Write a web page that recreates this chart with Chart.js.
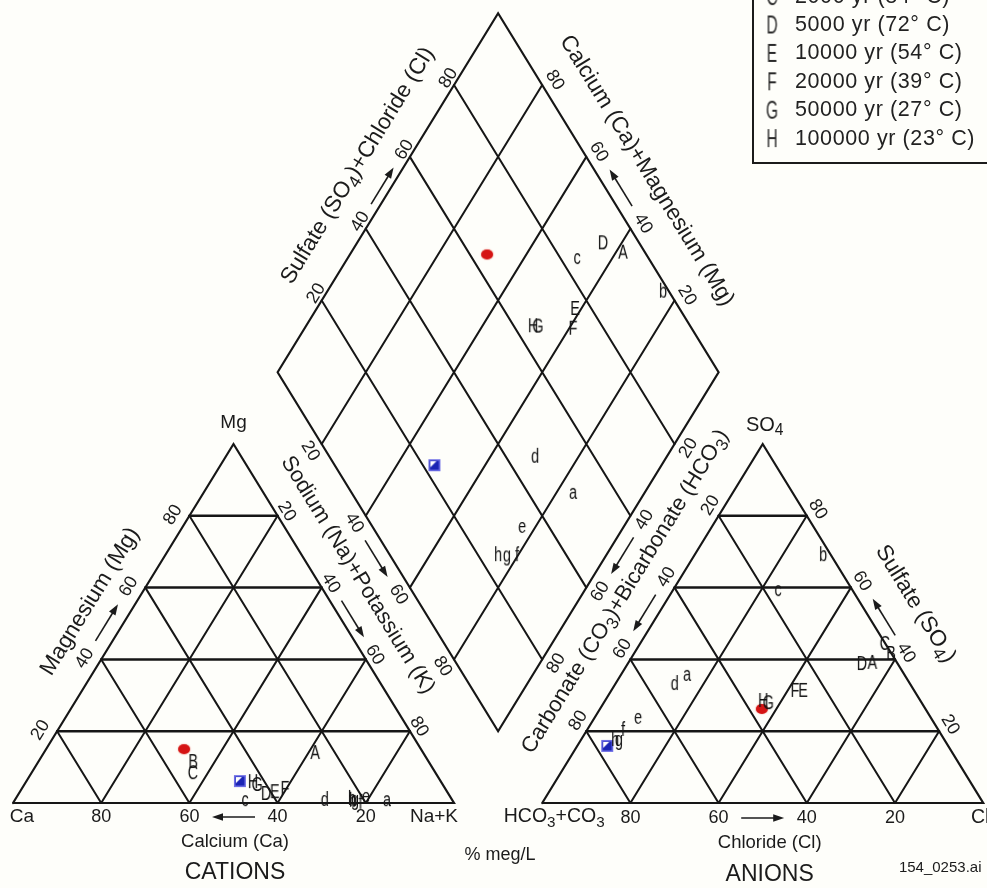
<!DOCTYPE html>
<html>
<head>
<meta charset="utf-8">
<script src="https://cdn.jsdelivr.net/npm/chart.js@4.4.1/dist/chart.umd.min.js"></script>
<style>
  html, body { margin: 0; padding: 0; background: #fefefa; }
  #wrap { width: 987px; height: 888px; }
</style>
</head>
<body>
<div id="wrap"><canvas id="piper" width="987" height="888"></canvas></div>
<script>
// ---------------- data (% meq/L) ----------------
// marker ids: two measured waters (red dot, blue square), model results A-H and a-h
const pointIds = ['red', 'blue', 'A', 'B', 'C', 'D', 'E', 'F', 'G', 'H',
                  'a', 'b', 'c', 'd', 'e', 'f', 'g', 'h'];

// cation triangle: magnesium and sodium+potassium (calcium is the rest)
const cationMg  = [15.0, 6.1, 14.2, 11.7, 8.6, 2.8, 3.3, 4.2, 5.3, 6.1,
                   0.8, 1.2, 0.8, 1.4, 1.7, 0.6, 0.3, 1.7];
const cationNaK = [31.3, 48.4, 61.4, 35.0, 36.5, 56.0, 57.7, 59.6, 52.7, 51.4,
                   84.4, 76.5, 52.2, 70.0, 79.2, 78.5, 77.4, 76.0];

// anion triangle: sulfate and chloride (carbonate+bicarbonate is the rest)
const anionSO4 = [26.2, 15.9, 39.3, 41.8, 44.6, 39.0, 31.5, 31.5, 28.1, 28.7,
                  35.7, 69.6, 59.3, 33.7, 23.7, 20.9, 17.0, 18.1];
const anionCl  = [36.7, 6.8, 55.2, 58.2, 55.4, 53.0, 43.4, 41.6, 37.2, 35.8,
                  15.0, 28.9, 23.8, 13.2, 9.9, 7.9, 8.9, 7.5];

// central diamond: sodium+potassium and sulfate+chloride (B and C not plotted)
const diamondNaK   = [31.1, 48.5, 61.5, null, null, 55.7, 58.5, 60.8, 52.5, 51.4,
                      83.8, 75.9, 52.0, 69.9, 77.0, 79.5, 77.8, 75.2];
const diamondSO4Cl = [63.9, 22.6, 95.1, null, null, 91.9, 76.4, 73.2, 65.5, 64.5,
                      50.2, 98.9, 83.8, 46.9, 33.9, 29.1, 26.2, 24.8];

// grid levels and tick labels
const gridLevels      = [20, 40, 60, 80];
const ascendingTicks  = ['20', '40', '60', '80'];
const calciumTicks    = ['80', '60', '40', '20'];
const chlorideTicks   = ['80', '60', '40', '20'];

// legend
const legendKeys  = ['C', 'D', 'E', 'F', 'G', 'H'];
const legendAges  = ['2000 yr', '5000 yr', '10000 yr', '20000 yr', '50000 yr', '100000 yr'];
const legendTemps = ['84° C', '72° C', '54° C', '39° C', '27° C', '23° C'];

// ---------------- geometry ----------------
const H = Math.sqrt(3) / 2;
const GAP = 20; // gap between the two triangles, in triangle-side percent
const cat = (mg, nak) => ({ x: nak + mg / 2, y: mg * H });
const an  = (so4, cl) => ({ x: 100 + GAP + cl + so4 / 2, y: so4 * H });
const dia = (nak, s)  => ({ x: 100 + GAP / 2 - 0.5 * (100 - nak) + 0.5 * s,
                            y: GAP * H + H * (100 - nak + s) });

const FONT = '"Liberation Sans", Arial, Helvetica, sans-serif';
const INK = '#1b1b1b';

// line sets: segments separated by gaps
function segs(list) {
  const out = [];
  list.forEach(seg => { seg.forEach(p => out.push(p)); out.push({ x: seg[0].x, y: null }); });
  return out;
}
const outlines = segs([
  [cat(0, 0), cat(0, 100), cat(100, 0), cat(0, 0)],
  [an(0, 0), an(0, 100), an(100, 0), an(0, 0)],
  [dia(0, 0), dia(0, 100), dia(100, 100), dia(100, 0), dia(0, 0)]
]);
const horizontals = segs(gridLevels.flatMap(k => [
  [cat(k, 0), cat(k, 100 - k)],
  [an(k, 0), an(k, 100 - k)]
]));
const diagonals = segs(gridLevels.flatMap(k => [
  [cat(0, k), cat(100 - k, k)],
  [cat(0, 100 - k), cat(100 - k, 0)],
  [an(0, k), an(100 - k, k)],
  [an(0, 100 - k), an(100 - k, 0)],
  [dia(k, 0), dia(k, 100)],
  [dia(0, k), dia(100, k)]
]));

// ---------------- marker glyphs ----------------
function letterGlyph(ch, size, sx, color) {
  const c = document.createElement('canvas');
  c.width = Math.ceil(size * 0.9); c.height = Math.ceil(size * 1.3);
  const g = c.getContext('2d');
  g.font = size + 'px ' + FONT;
  const m = g.measureText(ch);
  g.fillStyle = color;
  g.textAlign = 'center';
  g.textBaseline = 'alphabetic';
  g.translate(c.width / 2, c.height / 2 + (m.actualBoundingBoxAscent - m.actualBoundingBoxDescent) / 2);
  g.scale(sx, 1);
  g.fillText(ch, 0, 0);
  return c;
}
function redDot() {
  const c = document.createElement('canvas');
  c.width = 16; c.height = 14;
  const g = c.getContext('2d');
  g.fillStyle = '#d51414';
  g.shadowColor = 'rgba(220,60,40,0.6)'; g.shadowBlur = 1.5;
  g.beginPath(); g.ellipse(8, 7, 6, 5, 0, 0, Math.PI * 2); g.fill();
  return c;
}
function blueSquare() {
  const c = document.createElement('canvas');
  c.width = 14; c.height = 14;
  const g = c.getContext('2d');
  g.fillStyle = '#6f6fe6'; g.fillRect(1, 1, 12, 12);
  g.fillStyle = '#1a24b4'; g.fillRect(2.5, 2.5, 9, 9);
  g.fillStyle = '#ffffff';
  g.beginPath(); g.moveTo(3, 3); g.lineTo(9, 3); g.lineTo(3, 9); g.closePath(); g.fill();
  return c;
}
const styleFor = id => id === 'red' ? redDot() : id === 'blue' ? blueSquare()
                     : letterGlyph(id, 20, 0.72, '#111111');

function markerSet(points) {
  const data = [], styles = [];
  points.forEach((p, i) => { if (p) { data.push(p); styles.push(styleFor(pointIds[i])); } });
  return { data, styles };
}
const cationMarks  = markerSet(pointIds.map((_, i) => cat(cationMg[i], cationNaK[i])));
const anionMarks   = markerSet(pointIds.map((_, i) => an(anionSO4[i], anionCl[i])));
const diamondMarks = markerSet(pointIds.map((_, i) =>
  diamondNaK[i] === null ? null : dia(diamondNaK[i], diamondSO4Cl[i])));

// ---------------- text helpers ----------------
// "_x" in a string marks x as a subscript
function drawRich(ctx, str, x, y, size, angle) {
  const parts = [];
  let buf = '';
  for (let i = 0; i < str.length; i++) {
    if (str[i] === '_') { if (buf) parts.push({ t: buf }); buf = ''; parts.push({ t: str[i + 1], sub: true }); i++; }
    else buf += str[i];
  }
  if (buf) parts.push({ t: buf });
  ctx.save();
  ctx.translate(x, y);
  ctx.rotate(angle || 0);
  ctx.textBaseline = 'middle';
  ctx.textAlign = 'left';
  ctx.fillStyle = INK;
  const widths = parts.map(p => { ctx.font = (p.sub ? size * 0.78 : size) + 'px ' + FONT; return ctx.measureText(p.t).width; });
  let cx = -widths.reduce((a, b) => a + b, 0) / 2;
  parts.forEach((p, i) => {
    ctx.font = (p.sub ? size * 0.78 : size) + 'px ' + FONT;
    ctx.fillText(p.t, cx, p.sub ? size * 0.3 : 0);
    cx += widths[i];
  });
  ctx.restore();
}
function drawPlain(ctx, str, x, y, size) {
  ctx.save();
  ctx.font = size + 'px ' + FONT; ctx.fillStyle = INK;
  ctx.textAlign = 'center'; ctx.textBaseline = 'middle';
  ctx.fillText(str, x, y);
  ctx.restore();
}
function drawArrow(ctx, a, b, len) {
  const dx = b.x - a.x, dy = b.y - a.y, d = Math.hypot(dx, dy);
  const ux = dx / d, uy = dy / d;
  const mx = (a.x + b.x) / 2, my = (a.y + b.y) / 2;
  const sx = mx - ux * len / 2, sy = my - uy * len / 2;
  const ex = mx + ux * len / 2, ey = my + uy * len / 2;
  ctx.save();
  ctx.strokeStyle = INK; ctx.fillStyle = INK; ctx.lineWidth = 1.6;
  ctx.beginPath(); ctx.moveTo(sx, sy); ctx.lineTo(ex - ux * 8, ey - uy * 8); ctx.stroke();
  ctx.beginPath();
  ctx.moveTo(ex, ey);
  ctx.lineTo(ex - ux * 11 - uy * 3.8, ey - uy * 11 + ux * 3.8);
  ctx.lineTo(ex - ux * 11 + uy * 3.8, ey - uy * 11 - ux * 3.8);
  ctx.closePath(); ctx.fill();
  ctx.restore();
}

// tick label groups along the edges: where each level sits, text offset in px, text side
const tickGroups = [
  { at: k => cat(0, k),          labels: calciumTicks,   dx: 0,     dy: 14,    rot: 0,  arrow: [2, 1] },
  { at: k => cat(k, 0),          labels: ascendingTicks, dx: -16.5, dy: -1,    rot: -1, arrow: [1, 2] },
  { at: k => cat(100 - k, k),    labels: ascendingTicks, dx: 9,     dy: -4.5,  rot: 1,  arrow: [1, 2] },
  { at: k => an(0, k),           labels: chlorideTicks,  dx: 0,     dy: 15,    rot: 0,  arrow: [1, 2] },
  { at: k => an(100 - k, 0),     labels: ascendingTicks, dx: -8,    dy: -10.5, rot: -1, arrow: [1, 2] },
  { at: k => an(k, 100 - k),     labels: ascendingTicks, dx: 11,    dy: -6.5,  rot: 1,  arrow: [1, 2] },
  { at: k => dia(0, k),          labels: ascendingTicks, dx: -5.5,  dy: -7,    rot: -1, arrow: [1, 2] },
  { at: k => dia(100 - k, 100),  labels: ascendingTicks, dx: 12.5,  dy: -5,    rot: 1,  arrow: [1, 2] },
  { at: k => dia(k, 0),          labels: ascendingTicks, dx: -11.5, dy: 7,     rot: 1,  arrow: [1, 2] },
  { at: k => dia(100, 100 - k),  labels: ascendingTicks, dx: 14,    dy: 4,     rot: -1, arrow: [1, 2] }
];

// free text: anchor point in chart units, px offset, size, side (-1 / 0 / 1)
const textItems = [
  { t: 'Mg',                 at: cat(100, 0),   dx: 0,    dy: -21, size: 19, rot: 0 },
  { t: 'Ca',                 at: cat(0, 0),     dx: 9,    dy: 14,  size: 19, rot: 0 },
  { t: 'Na+K',               at: cat(0, 100),   dx: -20,  dy: 14,  size: 19, rot: 0 },
  { t: 'Calcium (Ca)',       at: cat(0, 50),    dx: 1.5,  dy: 39,  size: 18.5, rot: 0 },
  { t: 'CATIONS',            at: cat(0, 50),    dx: 1.5,  dy: 70,  size: 23, rot: 0 },
  { t: 'Magnesium (Mg)',     at: cat(50, 0),    dx: -33,  dy: -22, size: 22.5, rot: -1 },
  { t: 'Sodium (Na)+Potassium (K)', at: cat(50, 50), dx: 14, dy: -48.5, size: 22, rot: 1 },
  { t: 'SO_4',               at: an(100, 0),    dx: 2,    dy: -19, size: 20, rot: 0 },
  { t: 'HCO_3+CO_3',         at: an(0, 0),      dx: 12,   dy: 14,  size: 19.5, rot: 0 },
  { t: 'Cl',                 at: an(0, 100),    dx: -3,   dy: 15,  size: 19.5, rot: 0 },
  { t: 'Chloride (Cl)',      at: an(0, 50),     dx: 7,    dy: 40,  size: 18.5, rot: 0 },
  { t: 'ANIONS',             at: an(0, 50),     dx: 7,    dy: 72,  size: 23, rot: 0 },
  { t: 'Sulfate (SO_4)',     at: an(50, 50),    dx: 42.5, dy: -19.5, size: 22.5, rot: 1 },
  { t: 'Carbonate (CO_3)+Bicarbonate (HCO_3)', at: an(50, 0), dx: -27, dy: -32, size: 22, rot: -1 },
  { t: 'Sulfate (SO_4)+Chloride (Cl)',  at: dia(0, 50),   dx: -30, dy: -27, size: 22.5, rot: -1 },
  { t: 'Calcium (Ca)+Magnesium (Mg)',   at: dia(50, 100), dx: 38.5, dy: -22, size: 22.5, rot: 1 },
  { t: '% meg/L',            at: dia(100, 0),   dx: 2,    dy: 124, size: 18, rot: 0 }
];

// ---------------- chart ----------------
const X_MIN = -13 / 4.41, X_MAX = 974 / 4.41;
const Y_MIN = -85 / 4.145, Y_MAX = 803 / 4.145;

const background = {
  id: 'background',
  beforeDraw(chart) {
    const c = chart.ctx;
    c.save(); c.fillStyle = '#fefefa'; c.fillRect(0, 0, chart.width, chart.height); c.restore();
  }
};

const annotations = {
  id: 'annotations',
  afterDatasetsDraw(chart) {
    const ctx = chart.ctx;
    const xs = chart.scales.x, ys = chart.scales.y;
    const px = p => ({ x: xs.getPixelForValue(p.x), y: ys.getPixelForValue(p.y) });
    const a0 = px(cat(0, 0)), a1 = px(cat(100, 0));
    const edgeAngle = Math.atan2(a1.y - a0.y, a1.x - a0.x); // left-edge direction
    const rotOf = r => r === 0 ? 0 : (r < 0 ? edgeAngle : -edgeAngle);

    tickGroups.forEach(g => {
      const spots = gridLevels.map(k => { const p = px(g.at(k)); return { x: p.x + g.dx, y: p.y + g.dy }; });
      spots.forEach((s, i) => drawRich(ctx, g.labels[i], s.x, s.y, 18, rotOf(g.rot)));
      drawArrow(ctx, spots[g.arrow[0]], spots[g.arrow[1]], 43);
    });

    textItems.forEach(it => {
      const p = px(it.at);
      drawRich(ctx, it.t, p.x + it.dx, p.y + it.dy, it.size, rotOf(it.rot));
    });

    // figure file tag
    const clV = px(an(0, 100));
    drawPlain(ctx, '154' + String.fromCharCode(95) + '0253.ai', clV.x - 43, clV.y + 65, 15);

    // legend box (extends past the top and right edges)
    ctx.save();
    ctx.strokeStyle = INK; ctx.lineWidth = 2;
    ctx.beginPath(); ctx.moveTo(753, -2); ctx.lineTo(753, 163); ctx.lineTo(990, 163); ctx.stroke();
    ctx.fillStyle = '#222';
    ctx.textAlign = 'left'; ctx.textBaseline = 'middle';
    ctx.font = '21.5px ' + FONT;
    if ('letterSpacing' in ctx) ctx.letterSpacing = '0.6px';
    legendKeys.forEach((k, i) => {
      const y = -4.4 + 28.4 * i;
      const gl = letterGlyph(k, 25, 0.62, '#2a2a2a');
      ctx.drawImage(gl, 772 - gl.width / 2, y - gl.height / 2);
      ctx.fillText(legendAges[i] + ' (' + legendTemps[i] + ')', 795, y + 1);
    });
    ctx.restore();
  }
};

const lineDs = (data, width) => ({
  data, showLine: true, borderColor: '#161616', borderWidth: width,
  pointRadius: 0, spanGaps: false, tension: 0, fill: false, borderCapStyle: 'round'
});
const markDs = m => ({
  data: m.data, showLine: false, pointStyle: m.styles, pointRadius: 6, pointHoverRadius: 6
});

new Chart(document.getElementById('piper'), {
  type: 'scatter',
  data: {
    datasets: [
      lineDs(diagonals, 2),
      lineDs(horizontals, 2.5),
      lineDs(outlines, 2.2),
      markDs(cationMarks),
      markDs(diamondMarks),
      markDs(anionMarks)
    ]
  },
  options: {
    responsive: false,
    animation: false,
    devicePixelRatio: 1,
    events: [],
    layout: { padding: 0, autoPadding: false },
    plugins: { legend: { display: false }, tooltip: { enabled: false } },
    scales: {
      x: { type: 'linear', min: X_MIN, max: X_MAX, display: false },
      y: { type: 'linear', min: Y_MIN, max: Y_MAX, display: false }
    }
  },
  plugins: [background, annotations]
});
</script>
</body>
</html>
